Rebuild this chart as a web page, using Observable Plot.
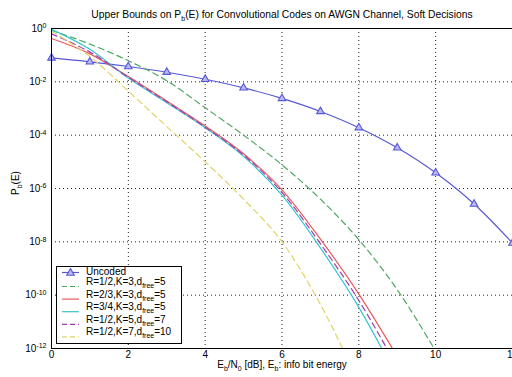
<!DOCTYPE html>
<html><head><meta charset="utf-8">
<script src="https://cdn.jsdelivr.net/npm/d3@7"></script>
<script src="https://cdn.jsdelivr.net/npm/@observablehq/plot@0.6"></script>
<style>
html,body{margin:0;padding:0;background:#fff;overflow:hidden;}
#chart{width:512px;height:377px;overflow:hidden;position:relative;}
#chart svg{max-width:none !important;display:block;}
</style></head><body><div id="chart"></div>
<script>
// ---- data ----
const xTicks = [0, 2, 4, 6, 8, 10, 12];
const yTicks = [1, 1e-2, 1e-4, 1e-6, 1e-8, 1e-10, 1e-12];
const yTickExps = ["0", "-2", "-4", "-6", "-8", "-10", "-12"];

const ebn0Uncoded = [0, 1, 2, 3, 4, 5, 6, 7, 8, 9, 10, 11, 12];
const pbUncoded = [7.86e-2, 5.63e-2, 3.75e-2, 2.29e-2, 1.25e-2, 5.95e-3, 2.39e-3, 7.73e-4, 1.91e-4, 3.36e-5, 3.87e-6, 2.61e-7, 9.0e-9];

const ebn0Coded = [0, 1, 2, 3, 4, 5, 6, 7, 8, 9, 10];
const pbR12K3 = [0.85, 0.26, 6.2e-2, 1.1e-2, 1.07e-3, 1.0e-4, 7.7e-6, 4.0e-7, 1.2e-8, 1.6e-10, 8e-13];
const pbR23K3 = [0.42, 0.112, 1.58e-2, 1.9e-3, 2.2e-4, 2.0e-5, 8.9e-7, 1.26e-8, 1.1e-10, 5e-13];
const pbR34K3 = [0.93, 0.166, 1.38e-2, 1.66e-3, 1.9e-4, 1.6e-5, 5.6e-7, 5.9e-9, 3.5e-11, 8e-14];
const pbR12K5 = [0.63, 0.13, 1.48e-2, 1.78e-3, 2.0e-4, 1.8e-5, 7.1e-7, 8.5e-9, 6.3e-11, 2e-13];
const pbR12K7 = [0.79, 8.9e-2, 4.5e-3, 2.1e-4, 1.0e-5, 4.0e-7, 1.0e-8, 4.5e-11, 5e-14];

const seriesNames = ["Uncoded", "R=1/2,K=3,d|free|=5", "R=2/3,K=3,d|free|=5", "R=3/4,K=3,d|free|=5", "R=1/2,K=5,d|free|=7", "R=1/2,K=7,d|free|=10"];
const seriesColors = ["#5858d6", "#4fa862", "#ea5a5a", "#35c6cc", "#a43cb4", "#e2d468"];
const seriesDashes = [null, "6,4", null, null, "6,4", "6,4"];
const seriesValues = [pbUncoded, pbR12K3, pbR23K3, pbR34K3, pbR12K5, pbR12K7];
const seriesX = [ebn0Uncoded, ebn0Coded, ebn0Coded, ebn0Coded, ebn0Coded, ebn0Coded];

// ---- build ----
const lineMarks = seriesValues.map((vals, s) => {
  const rows = vals.map((p, i) => ({x: seriesX[s][i], p}));
  return Plot.line(rows, {x: "x", y: "p", stroke: seriesColors[s], strokeWidth: 1.2,
    strokeDasharray: seriesDashes[s] || undefined, curve: "monotone-x", clip: true});
});
const uncodedRows = pbUncoded.map((p, i) => ({x: ebn0Uncoded[i], p}));
const expMap = new Map(yTicks.map((t, i) => [t, yTickExps[i]]));

const plot = Plot.plot({
  width: 530, height: 377,
  marginLeft: 51, marginRight: 18, marginTop: 28, marginBottom: 29,
  style: {fontFamily: "'Liberation Sans', Arial, sans-serif", fontSize: "10px", background: "#fff", color: "#000", overflow: "visible"},
  x: {domain: [0, 12], ticks: xTicks, tickSize: 0, tickPadding: 2, label: null},
  y: {type: "log", domain: [1e-12, 1], ticks: yTicks, tickSize: 0, tickPadding: 5, tickFormat: d => expMap.get(d) ?? "", label: null},
  marks: [
    Plot.gridX(xTicks, {stroke: "#222", strokeOpacity: 1, strokeDasharray: "1,3"}),
    Plot.gridY(yTicks, {stroke: "#222", strokeOpacity: 1, strokeDasharray: "1,3"}),
    ...lineMarks,
    Plot.dot(uncodedRows, {x: "x", y: "p", symbol: "triangle", r: 2.8, stroke: seriesColors[0], fill: "#b9b9f0", strokeWidth: 1.1}),
    Plot.frame({stroke: "#000", strokeWidth: 1})
  ]
});
document.getElementById("chart").appendChild(plot);

const svg = d3.select(plot);
// superscript exponents on y tick labels
svg.selectAll('g[aria-label="y-axis tick label"] text').each(function () {
  const e = this.textContent;
  const t = d3.select(this);
  t.text(null);
  t.append("tspan").text("10");
  t.append("tspan").attr("dy", "-0.5em").attr("font-size", "7px").text(e);
});

function richText(g, str, x, y, opts = {}) {
  const t = g.append("text").attr("x", x).attr("y", y).attr("font-size", opts.size || 10)
    .attr("text-anchor", opts.anchor || "start").attr("fill", "#000");
  if (opts.rotate) t.attr("transform", `rotate(-90 ${x} ${y})`);
  const parts = str.split("|");
  parts.forEach((p, i) => {
    if (!p) return;
    const sp = t.append("tspan").text(p);
    if (i % 2 === 1) sp.attr("font-size", 7).attr("dy", 3);
    else if (i > 0) sp.attr("dy", -3);
  });
  return t;
}
const deco = svg.append("g");
richText(deco, "Upper Bounds on P|b|(E) for Convolutional Codes on AWGN Channel, Soft Decisions", 282, 18, {anchor: "middle", size: 10.3});
richText(deco, "E|b|/N|0| [dB], E|b|: info bit energy", 282, 368, {anchor: "middle"});
richText(deco, "P|b|(E)", 19, 183, {anchor: "middle", rotate: true});

// legend
const lg = svg.append("g");
lg.append("rect").attr("x", 56.5).attr("y", 266.5).attr("width", 125).attr("height", 77)
  .attr("fill", "#fff").attr("stroke", "#000").attr("stroke-width", 1);
const swY = [272.5, 286.5, 299.1, 311.7, 324.3, 336.9];
seriesNames.forEach((name, i) => {
  const y = swY[i];
  const ln = lg.append("line").attr("x1", 62).attr("x2", 79).attr("y1", y).attr("y2", y)
    .attr("stroke", seriesColors[i]).attr("stroke-width", 1.2);
  if (seriesDashes[i]) ln.attr("stroke-dasharray", "5,3");
  if (i === 0) lg.append("path").attr("d", d3.symbol(d3.symbolTriangle, 25)()).attr("transform", `translate(70.5,${y + 0.5})`)
    .attr("fill", "#b9b9f0").attr("stroke", seriesColors[0]).attr("stroke-width", 1.1);
  richText(lg, name, 86, i === 0 ? y + 2.5 : y - 1.5, {});
});
</script></body></html>
